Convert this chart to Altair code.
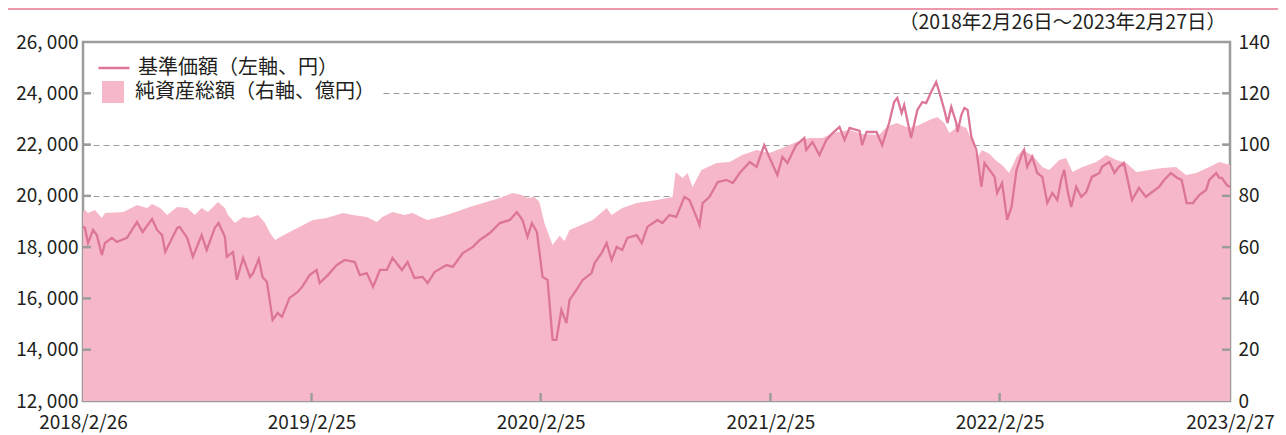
import altair as alt
import pandas as pd

START = "2018-02-26"

# 基準価額 (left axis, 円): day offset from START and value
LINE_DAYS = [
    0, 3, 8, 16, 22, 30, 35, 46, 54, 70,
    86, 95, 110, 118, 126, 131, 150, 154, 166, 175,
    189, 197, 210, 216, 226, 229, 239, 245, 255, 266,
    271, 280, 286, 293, 299, 302, 310, 317, 329, 342,
    349, 361, 372, 377, 390, 404, 417, 433, 441, 452,
    462, 473, 484, 493, 508, 517, 528, 541, 549, 560,
    579, 589, 605, 621, 632, 648, 664, 680, 691, 700,
    708, 715, 723, 732, 740, 748, 754, 762, 770, 775,
    786, 796, 810, 815, 826, 834, 842, 850, 859, 867,
    882, 890, 899, 915, 923, 934, 945, 958, 966, 977,
    982, 987, 998, 1011, 1025, 1035, 1046, 1062, 1073, 1085,
    1093, 1106, 1114, 1122, 1136, 1149, 1152, 1162, 1173, 1184,
    1194, 1205, 1213, 1221, 1237, 1241, 1248, 1264, 1273, 1284,
    1292, 1297, 1304, 1308, 1319, 1329, 1337, 1343, 1351, 1359,
    1364, 1372, 1377, 1383, 1391, 1393, 1399, 1404, 1409, 1415,
    1423, 1431, 1436, 1444, 1452, 1456, 1464, 1472, 1479, 1487,
    1495, 1499, 1504, 1512, 1520, 1528, 1536, 1544, 1552, 1558,
    1563, 1568, 1574, 1582, 1590, 1598, 1607, 1619, 1623, 1635,
    1643, 1650, 1658, 1663, 1671, 1682, 1693, 1703, 1714, 1722,
    1733, 1743, 1750, 1758, 1768, 1778, 1789, 1794, 1805, 1810,
    1814, 1822, 1827,
]
LINE_VALS = [
    18800, 18750, 18160, 18670, 18470, 17690, 18160, 18360, 18200, 18360,
    18980, 18590, 19100, 18670, 18470, 17810, 18750, 18790, 18360, 17620,
    18470, 17890, 18750, 18940, 18400, 17620, 17810, 16720, 17580, 16840,
    16990, 17540, 16840, 16640, 15670, 15160, 15430, 15280, 16020, 16250,
    16450, 16910, 17110, 16600, 16910, 17300, 17500, 17420, 16910, 16990,
    16450, 17110, 17110, 17580, 17110, 17420, 16800, 16840, 16600, 17030,
    17300, 17230, 17770, 18010, 18280, 18550, 18940, 19060, 19370, 19060,
    18400, 18940, 18590, 16840, 16720, 14380, 14380, 15550, 15040, 15940,
    16330, 16720, 16990, 17380, 17770, 18160, 17500, 18010, 17890, 18360,
    18470, 18160, 18790, 19060, 18940, 19250, 19180, 19960, 19840, 19180,
    18860, 19720, 19960, 20540, 20620, 20500, 20890, 21320, 21130, 21980,
    21520, 20810, 21520, 21280, 21980, 22260, 21790, 22100, 21590, 22180,
    22450, 22690, 22180, 22650, 22530, 21980, 22490, 22490, 21980, 22840,
    23660, 23820, 23230, 23540, 22260, 23350, 23660, 23620, 24050, 24440,
    24050, 23350, 22840, 23470, 22840, 22490, 23150, 23430, 23350, 22300,
    21790, 20350, 21280, 21010, 20740, 20110, 20500, 19060, 19570, 21010,
    21590, 21790, 21130, 21520, 20890, 20740, 19720, 20110, 19840, 20620,
    21010, 20230, 19570, 20350, 19960, 20150, 20740, 20890, 21130, 21320,
    20890, 21130, 21280, 20740, 19840, 20310, 19960, 20150, 20350, 20620,
    20890, 20700, 20620, 19720, 19720, 20030, 20230, 20620, 20890, 20700,
    20700, 20420, 20350,
]

# 純資産総額 (right axis, 億円)
AREA_DAYS = [
    0, 3, 8, 19, 30, 35, 64, 86, 102, 110,
    123, 134, 150, 166, 178, 189, 199, 215, 226, 231,
    242, 255, 266, 279, 290, 298, 306, 314, 329, 357,
    366, 388, 414, 430, 452, 468, 477, 493, 512, 525,
    548, 568, 589, 616, 637, 664, 684, 699, 708, 719,
    727, 735, 748, 759, 767, 775, 791, 812, 834, 842,
    859, 882, 914, 939, 944, 955, 963, 971, 985, 1009,
    1030, 1050, 1073, 1093, 1114, 1136, 1157, 1178, 1194, 1221,
    1241, 1268, 1280, 1296, 1316, 1332, 1348, 1361, 1372, 1380,
    1396, 1407, 1417, 1424, 1432, 1444, 1455, 1464, 1475, 1487,
    1496, 1512, 1528, 1539, 1555, 1566, 1576, 1592, 1614, 1630,
    1646, 1662, 1678, 1698, 1719, 1741, 1757, 1773, 1794, 1810,
    1827,
]
AREA_VALS = [
    73.7, 74.5, 73.3, 74.5, 71.4, 73.3, 73.7, 76.4, 75.3, 76.8,
    75.3, 72.5, 75.7, 75.3, 72.5, 75.3, 73.7, 77.6, 75.3, 72.5,
    69.4, 71.8, 71.4, 72.5, 69.4, 65.5, 62.8, 64.0, 65.9, 69.4,
    70.6, 71.4, 73.3, 72.5, 71.8, 69.8, 71.8, 73.7, 72.5, 73.3,
    70.6, 71.8, 73.3, 75.7, 77.2, 79.2, 81.1, 80.3, 79.2, 79.6,
    77.6, 69.4, 60.8, 64.4, 62.4, 66.7, 68.3, 70.6, 75.3, 72.5,
    75.3, 77.2, 78.4, 79.6, 89.3, 87.0, 88.9, 83.5, 90.1, 92.8,
    93.2, 95.9, 97.9, 96.7, 98.7, 101.0, 102.6, 102.6, 104.5, 105.7,
    104.1, 103.7, 106.9, 108.4, 106.5, 107.6, 109.6, 110.8, 108.4, 104.5,
    107.6, 106.5, 101.0, 94.8, 97.9, 96.3, 93.6, 92.0, 88.9, 95.2,
    97.9, 95.9, 91.3, 90.1, 94.0, 94.8, 89.3, 91.3, 93.2, 95.9,
    94.0, 92.8, 89.3, 90.1, 90.9, 91.3, 88.1, 88.9, 91.3, 93.2,
    92.0,
]

LEFT_TICKS = [12000, 14000, 16000, 18000, 20000, 22000, 24000, 26000]
RIGHT_TICKS = [0, 20, 40, 60, 80, 100, 120, 140]
X_TICK_DATES = ["2018-02-26", "2019-02-25", "2020-02-25", "2021-02-25", "2022-02-25", "2023-02-27"]

LINE_LABEL = "基準価額（左軸、円）"
AREA_LABEL = "純資産総額（右軸、億円）"
TITLE = "（2018年2月26日～2023年2月27日）"

FONT = "Noto Sans CJK JP"
TEXT = "#231f20"
FRAME = "#9c9c9c"
LINE_COLOR = "#dc7596"
AREA_COLOR = "#f6b8c9"
TOP_COLOR = "#e8768f"

W, H = 1147, 359

start = pd.Timestamp(START)
line_df = pd.DataFrame({
    "date": start + pd.to_timedelta(LINE_DAYS, unit="D"),
    "nav": LINE_VALS,
    "s": LINE_LABEL,
})
area_df = pd.DataFrame({
    "date": start + pd.to_timedelta(AREA_DAYS, unit="D"),
    "aum": AREA_VALS,
    "s": AREA_LABEL,
})


def dt(s):
    y, m, d = s.split("-")
    return alt.DateTime(year=int(y), month=int(m), date=int(d))


x_scale = alt.Scale(domain=[dt(X_TICK_DATES[0]), dt(X_TICK_DATES[-1])])
x_axis = alt.Axis(
    values=[dt(s) for s in X_TICK_DATES], format="%Y/%-m/%-d", title=None,
    domain=False, ticks=False, tickSize=0, grid=False, labelFlush=False,
    labelOverlap=False, labelPadding=12, labelFont=FONT, labelFontSize=19,
    labelColor=TEXT,
)
X = alt.X("date:T", scale=x_scale, axis=x_axis)

left_scale = alt.Scale(domain=[12000, 26000])
right_scale = alt.Scale(domain=[0, 140])

left_axis = alt.Axis(
    orient="left", values=LEFT_TICKS, format=",d",
    labelExpr="replace(datum.label, ',', ', ')", title=None,
    domain=False, ticks=False, tickSize=0, labelPadding=5,
    grid=True, gridColor=FRAME, gridDash=[6, 4], gridWidth=1.2,
    labelFont=FONT, labelFontSize=19, labelColor=TEXT,
)
right_axis = alt.Axis(
    orient="right", values=RIGHT_TICKS, title=None,
    domain=False, ticks=False, tickSize=0, labelPadding=8, grid=False,
    labelFont=FONT, labelFontSize=19, labelColor=TEXT,
)

area = alt.Chart(area_df).mark_area(opacity=1, interpolate="linear").encode(
    x=X,
    y=alt.Y("aum:Q", scale=right_scale, axis=right_axis),
    fill=alt.Fill(
        "s:N",
        scale=alt.Scale(domain=[AREA_LABEL], range=[AREA_COLOR]),
        legend=alt.Legend(
            title=None, orient="none", legendX=11, legendY=31,
            symbolType="square", symbolSize=484, symbolStrokeWidth=0,
            symbolOpacity=1, labelOffset=11, labelFont=FONT, labelFontSize=20,
            labelColor=TEXT, labelLimit=500, fillColor="white", padding=8,
        ),
    ),
)

line = alt.Chart(line_df).mark_line(strokeWidth=2.3).encode(
    x=X,
    y=alt.Y("nav:Q", scale=left_scale, axis=left_axis),
    color=alt.Color(
        "s:N",
        scale=alt.Scale(domain=[LINE_LABEL], range=[LINE_COLOR]),
        legend=alt.Legend(
            title=None, orient="none", legendX=12, legendY=7,
            symbolType="stroke", symbolSize=961, symbolStrokeWidth=2.5,
            labelOffset=7, labelFont=FONT, labelFontSize=20,
            labelColor=TEXT, labelLimit=500, padding=2,
        ),
    ),
)

left_ticks = alt.Chart(pd.DataFrame({"v": LEFT_TICKS[1:-1]})).mark_rule(
    color=FRAME, strokeWidth=2.5
).encode(
    y=alt.Y("v:Q", scale=left_scale, axis=None),
    x=alt.value(0), x2=alt.value(8),
)

right_ticks = alt.Chart(pd.DataFrame({"v": RIGHT_TICKS[1:-1]})).mark_rule(
    color=FRAME, strokeWidth=2.5
).encode(
    y=alt.Y("v:Q", scale=right_scale, axis=None),
    x=alt.value(W - 8), x2=alt.value(W),
)

bottom_ticks = alt.Chart(
    pd.DataFrame({"date": pd.to_datetime(X_TICK_DATES[1:-1])})
).mark_rule(color=FRAME, strokeWidth=2.5).encode(
    x=X, y=alt.value(H - 8), y2=alt.value(H),
)

top_rule = alt.Chart(alt.Data(values=[{}])).mark_rule(
    color=TOP_COLOR, strokeWidth=1.5
).encode(
    x=alt.value(-75), x2=alt.value(W + 48), y=alt.value(-33),
)

title_text = alt.Chart(alt.Data(values=[{}])).mark_text(
    align="right", baseline="middle", font=FONT, fontSize=19.5, color=TEXT
).encode(
    x=alt.value(W - 4), y=alt.value(-19), text=alt.value(TITLE),
)

chart = alt.layer(
    area, line, left_ticks, right_ticks, bottom_ticks, top_rule, title_text
).resolve_scale(
    y="independent"
).properties(
    width=W, height=H,
    autosize=alt.AutoSizeParams(type="none"),
    padding={"left": 75, "top": 34, "right": 48, "bottom": 34},
).configure_view(
    stroke=FRAME, strokeWidth=2.5
)

chart.save("out.html", embed_options={"renderer": "svg", "actions": False})
